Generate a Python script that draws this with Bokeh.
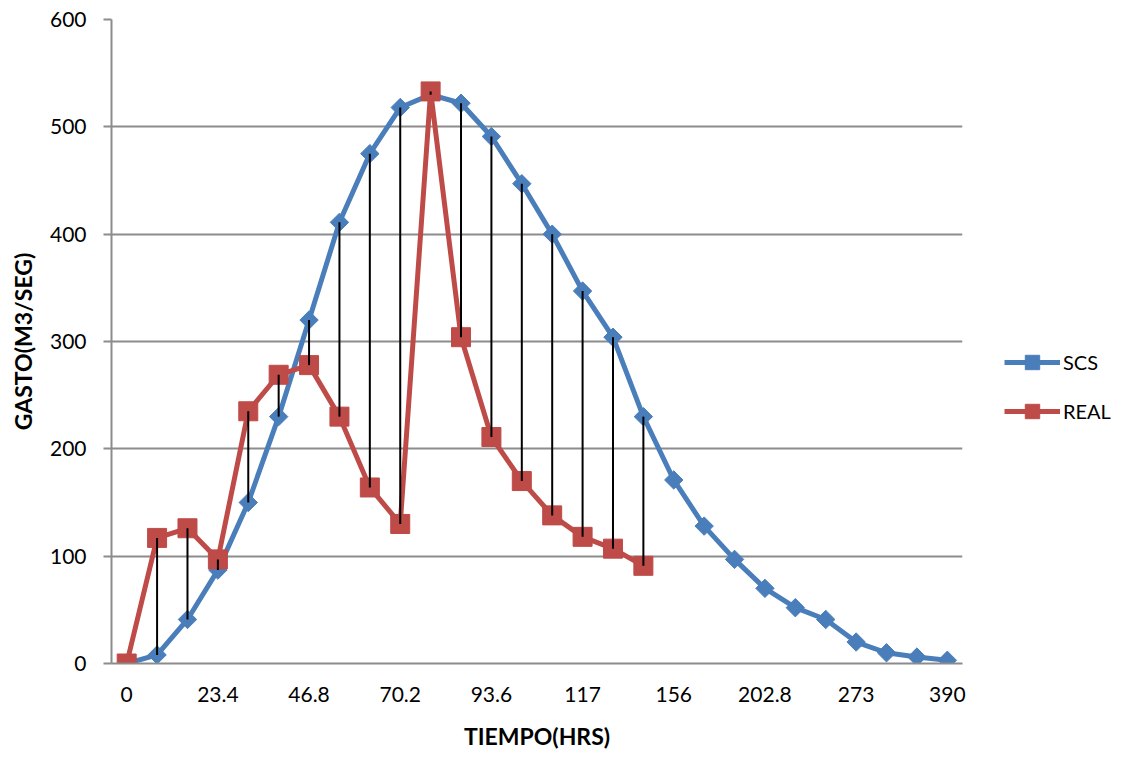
import numpy as np
from bokeh.plotting import figure
from bokeh.layouts import row
from bokeh.models import Range1d, FixedTicker, Legend, LegendItem, ColumnDataSource
from bokeh.embed import file_html
from bokeh.resources import INLINE

# ---- data ----
tiempo = ["0", "7.8", "15.6", "23.4", "31.2", "39", "46.8", "54.6", "62.4", "70.2",
          "78", "85.8", "93.6", "101.4", "109.2", "117", "124.8", "140.4", "156",
          "171.6", "187.2", "202.8", "218.4", "234", "273", "312", "351", "390"]
scs = [0, 8, 41, 87, 150, 230, 320, 411, 475, 518, 530, 522, 491, 447, 400, 347,
       304, 230, 171, 128, 97, 70, 52, 41, 20, 10, 6, 3]
real = [0, 117, 126, 97, 235, 269, 278, 230, 164, 130, 533, 304, 211, 170, 138,
        118, 107, 91]
series_names = ["SCS", "REAL"]
label_every = 3
y_ticks = [0, 100, 200, 300, 400, 500, 600]

BLUE = "#4A7EBB"
RED = "#BE4B48"
GRID = "#8C8C8C"
FONT = "Lato"

pos = list(range(len(tiempo)))  # category slots

H = 752
W1 = 975
p = figure(x_range=Range1d(-0.5, len(tiempo) - 0.5),
           y_range=Range1d(0, 600),
           width=W1, height=H, output_backend="svg", toolbar_location=None,
           min_border_left=111, min_border_right=W1 - 962, min_border_top=19,
           min_border_bottom=H - 664)
p.outline_line_color = None
p.background_fill_color = "white"
p.border_fill_color = "white"

# axes
shown = pos[::label_every]
p.xaxis.ticker = FixedTicker(ticks=shown)
p.xaxis.major_label_overrides = {i: tiempo[i] for i in shown}
p.xaxis.major_tick_line_color = None
p.xaxis.minor_tick_line_color = None
p.xaxis.axis_line_color = GRID
p.xaxis.axis_line_width = 2
p.xaxis.major_label_text_font = FONT
p.xaxis.major_label_text_font_size = "21px"
p.xaxis.major_label_text_color = "black"
p.xaxis.major_label_standoff = 17
p.xaxis.axis_label = "TIEMPO(HRS)"
p.xaxis.axis_label_text_font = FONT
p.xaxis.axis_label_text_font_style = "bold"
p.xaxis.axis_label_text_font_size = "23px"
p.xaxis.axis_label_text_color = "black"
p.xaxis.axis_label_standoff = 17

p.yaxis.ticker = FixedTicker(ticks=y_ticks)
p.yaxis.minor_tick_line_color = None
p.yaxis.major_tick_in = 0
p.yaxis.major_tick_out = 8
p.yaxis.major_tick_line_color = GRID
p.yaxis.major_tick_line_width = 2
p.yaxis.axis_line_color = GRID
p.yaxis.axis_line_width = 2
p.yaxis.major_label_text_font = FONT
p.yaxis.major_label_text_font_size = "21px"
p.yaxis.major_label_text_color = "black"
p.yaxis.major_label_standoff = 17
p.yaxis.axis_label = "GASTO(M3/SEG)"
p.yaxis.axis_label_text_font = FONT
p.yaxis.axis_label_text_font_style = "bold"
p.yaxis.axis_label_text_font_size = "23px"
p.yaxis.axis_label_text_color = "black"
p.yaxis.axis_label_standoff = 10

p.xgrid.grid_line_color = None
p.ygrid.ticker = FixedTicker(ticks=y_ticks)
p.ygrid.grid_line_color = GRID
p.ygrid.grid_line_width = 2

# series
src_scs = ColumnDataSource(dict(x=pos, y=scs))
src_real = ColumnDataSource(dict(x=pos[:len(real)], y=real))
p.line("x", "y", source=src_scs, line_color=BLUE, line_width=5, line_join="round")
p.scatter("x", "y", source=src_scs, marker="square", angle=np.pi / 4, size=13,
          fill_color=BLUE, line_color=BLUE)
p.line("x", "y", source=src_real, line_color=RED, line_width=5, line_join="round")
p.scatter("x", "y", source=src_real, marker="square", size=19,
          fill_color=RED, line_color=RED)

# high-low lines
n = len(real)
hl = ColumnDataSource(dict(x=pos[:n], y0=scs[:n], y1=real))
p.segment(x0="x", y0="y0", x1="x", y1="y1", source=hl, line_color="black", line_width=2)

# ---- legend panel (separate figure to the right) ----
W2 = 1120 - W1
q = figure(width=W2, height=H, output_backend="svg", toolbar_location=None,
           x_range=Range1d(0, 1), y_range=Range1d(0, 1),
           min_border_left=0, min_border_right=0, min_border_top=0, min_border_bottom=0)
q.axis.visible = False
q.grid.visible = False
q.outline_line_color = None
q.background_fill_color = "white"
q.border_fill_color = "white"
# proxy glyphs placed outside the visible range: they only feed the legend swatches
off = dict(x=[-5, -4], y=[-5, -4])
ql1 = q.line("x", "y", source=ColumnDataSource(off), line_color=BLUE, line_width=5)
qm1 = q.scatter("x", "y", source=ColumnDataSource(off), marker="square",
                angle=np.pi / 4, size=13, fill_color=BLUE, line_color=BLUE)
ql2 = q.line("x", "y", source=ColumnDataSource(off), line_color=RED, line_width=5)
qm2 = q.scatter("x", "y", source=ColumnDataSource(off), marker="square", size=19,
                fill_color=RED, line_color=RED)

legend = Legend(items=[LegendItem(label=series_names[0], renderers=[ql1, qm1]),
                       LegendItem(label=series_names[1], renderers=[ql2, qm2])],
                location=(1004 - W1, 234), orientation="vertical",
                glyph_width=56, glyph_height=36, label_height=36, spacing=13,
                label_standoff=3, padding=0, margin=0,
                border_line_color=None, background_fill_alpha=0,
                label_text_font=FONT, label_text_font_size="20px",
                label_text_color="black")
q.add_layout(legend, "center")

layout = row(p, q, spacing=0)
open("out.html", "w").write(file_html(layout, INLINE))
